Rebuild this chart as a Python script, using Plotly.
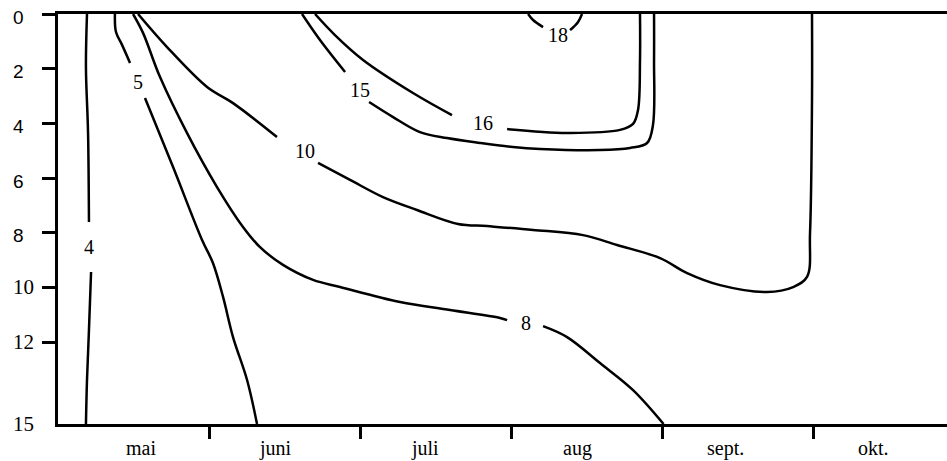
import plotly.graph_objects as go

# x: months since 1 May (1 = 1 June, 2 = 1 July, ...), y: depth (m)
month_names = ["mai", "juni", "juli", "aug", "sept.", "okt."]
month_label_pos = [0.55, 1.44, 2.43, 3.44, 4.42, 5.40]
month_tick_pos = [1, 2, 3, 4, 5]

depth_ticks = [0, 2, 4, 6, 8, 10, 12]
depth_labels = ["0", "2", "4", "6", "8", "10", "12", "15"]
depth_label_pos = [0, 2, 4, 6, 8, 10, 12, 15]

# isotherms (None = gap where the label sits)
iso4_x = [0.192, 0.185, 0.199, 0.205, None, 0.219, 0.205, 0.192, 0.185]
iso4_y = [0.0, 1.94, 4.35, 7.61, None, 9.44, 11.56, 13.39, 15.0]

iso5_x = [0.377, 0.384, 0.424, 0.477, None, 0.576, 0.762, 0.954, 1.026, 1.093, 1.159, 1.252, 1.318]
iso5_y = [0.0, 0.66, 1.13, 1.79, None, 3.07, 5.60, 8.27, 9.11, 10.35, 11.82, 13.39, 15.0]

iso8_x = [0.497, 0.563, 0.675, 0.854, 1.053, 1.225, 1.338, 1.490, 1.689, 1.868, 2.265, 2.596, 2.927, 2.974,
          None, 3.212, 3.371, 3.589, 3.808, 4.010]
iso8_y = [0.0, 0.69, 2.30, 4.35, 6.33, 7.79, 8.53, 9.18, 9.73, 9.99, 10.54, 10.83, 11.12, 11.20,
          None, 11.42, 11.82, 12.77, 13.76, 15.0]

iso10_x = [0.530, 0.722, 0.987, 1.159, 1.450, None, 1.722, 1.934, 2.152, 2.377, 2.649, 2.841, 3.146,
           3.477, 3.702, 3.987, 4.166, 4.384, 4.695, 4.868, 4.960, 4.980, 4.993, 4.993]
iso10_y = [0.0, 1.21, 2.67, 3.26, 4.50, None, 5.45, 6.07, 6.70, 7.17, 7.68, 7.76, 7.90,
           8.09, 8.45, 8.93, 9.48, 9.92, 10.17, 9.99, 9.62, 8.01, 3.15, 0.0]

iso15_x = [1.616, 1.735, 1.901, None, 2.060, 2.219, 2.397, 2.576, 2.795, 3.013, 3.192, 3.589,
           3.788, 3.901, 3.940, 3.947, 3.947]
iso15_y = [0.0, 0.95, 2.12, None, 3.22, 3.77, 4.32, 4.54, 4.72, 4.87, 4.94, 4.98,
           4.90, 4.72, 4.06, 1.68, 0.0]

iso16_x = [1.702, 1.834, 2.020, 2.351, 2.609, None, 2.974, 3.371, 3.722, 3.808, 3.841, 3.854, 3.854]
iso16_y = [0.0, 0.77, 1.68, 2.89, 3.70, None, 4.21, 4.35, 4.24, 4.02, 3.51, 1.68, 0.0]

iso18_x = [3.113, 3.146, 3.212, None, 3.391, 3.444, 3.470]
iso18_y = [0.0, 0.22, 0.48, None, 0.59, 0.29, 0.0]

iso_label_text = ["4", "5", "8", "10", "15", "16", "18"]
iso_label_x = [0.205, 0.530, 3.099, 1.636, 2.000, 2.815, 3.311]
iso_label_y = [8.53, 2.49, 11.31, 5.01, 2.78, 3.99, 0.77]

fig = go.Figure()
for xs, ys in [(iso4_x, iso4_y), (iso5_x, iso5_y), (iso8_x, iso8_y), (iso10_x, iso10_y),
               (iso15_x, iso15_y), (iso16_x, iso16_y), (iso18_x, iso18_y)]:
    fig.add_trace(go.Scatter(x=xs, y=ys, mode="lines", connectgaps=False,
                             line=dict(color="black", width=2.5, shape="spline", smoothing=1.0),
                             hoverinfo="skip", showlegend=False))

serif = "Liberation Serif, Times New Roman, serif"
sans = "Liberation Sans, Arial, sans-serif"

annotations = []
for t, x, y in zip(iso_label_text, iso_label_x, iso_label_y):
    annotations.append(dict(text=t, x=x, y=y, xref="x", yref="y", showarrow=False,
                            xanchor="center", yanchor="middle",
                            font=dict(family=serif, size=20, color="black")))
for t, x in zip(month_names, month_label_pos):
    annotations.append(dict(text=t, x=x, y=0, xref="x", yref="paper", showarrow=False,
                            xanchor="center", yanchor="middle", yshift=-24,
                            font=dict(family=serif, size=20, color="black")))
for t, y in zip(depth_labels, depth_label_pos):
    sans_lbl = len(t) == 1
    annotations.append(dict(text=t, x=0, y=y, xref="paper", yref="y", showarrow=False,
                            xanchor="left", yanchor="middle", xshift=-47,
                            yshift=-3 if sans_lbl else 0,
                            font=dict(family=sans if sans_lbl else serif,
                                      size=19 if sans_lbl else 21, color="black")))

fig.update_layout(
    width=947, height=461, autosize=False,
    margin=dict(l=58, r=0, t=14, b=37, pad=0),
    paper_bgcolor="white", plot_bgcolor="white",
    annotations=annotations,
    xaxis=dict(range=[0, 5.887], showgrid=False, zeroline=False,
               showline=True, linecolor="black", linewidth=2.5, mirror=True,
               tickmode="array", tickvals=month_tick_pos, ticktext=[""] * len(month_tick_pos),
               ticks="outside", ticklen=12, tickwidth=2.5, tickcolor="black"),
    yaxis=dict(range=[15, 0], showgrid=False, zeroline=False,
               showline=True, linecolor="black", linewidth=2.5,
               tickmode="array", tickvals=depth_ticks, ticktext=[""] * len(depth_ticks),
               ticks="outside", ticklen=13, tickwidth=2.5, tickcolor="black"),
)

fig.write_html("out.html")
